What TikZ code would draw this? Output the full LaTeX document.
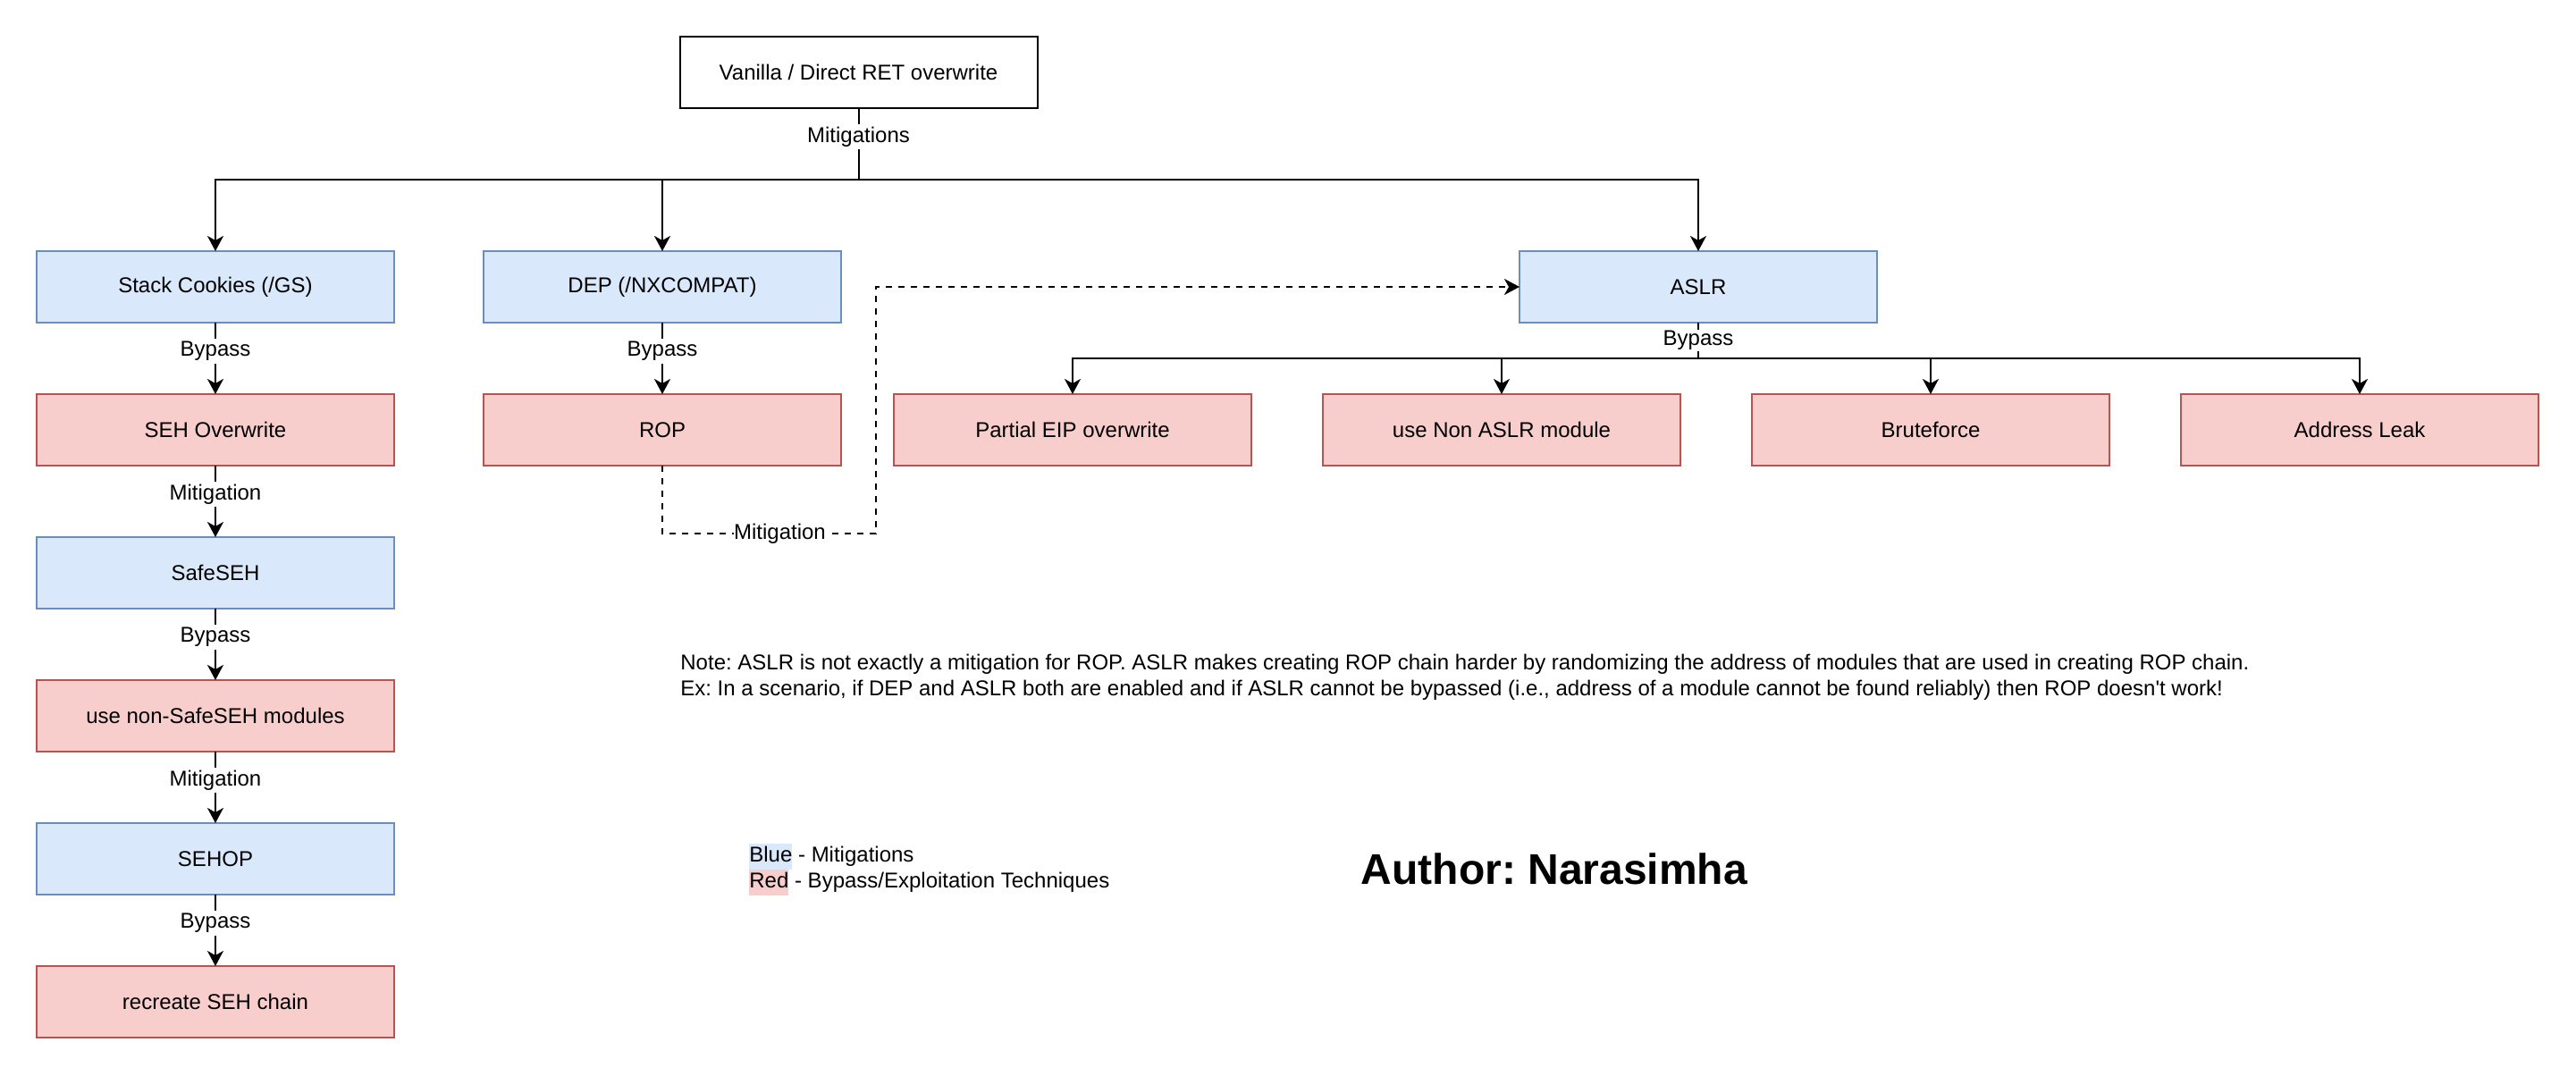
\documentclass[tikz,border=0pt]{standalone}
\usepackage{fontspec}
\setmainfont{Liberation Sans}
\usepackage{xcolor}
\usepackage{tikz}
\usetikzlibrary{arrows.meta, positioning, calc}
\definecolor{BlueFill}{HTML}{DAE8FC}
\definecolor{BlueLine}{HTML}{6C8EBF}
\definecolor{RedFill} {HTML}{F8CECC}
\definecolor{RedLine} {HTML}{B85450}
\setlength{\fboxsep}{0pt}
\frenchspacing
\tikzset{
  blk/.style={draw, line width=1pt, align=center, font=\fontsize{12}{14.4}\selectfont,
              minimum height=40pt, minimum width=200pt, inner sep=2pt, outer sep=0pt},
  mit/.style={blk, fill=BlueFill, draw=BlueLine},
  byp/.style={blk, fill=RedFill, draw=RedLine},
  arr/.style={-{Stealth[length=8.5pt,width=9pt,inset=2.5pt]}, line width=1pt},
  lbl/.style={fill=white, inner sep=1.5pt, font=\fontsize{12}{14.4}\selectfont},
  txt/.style={anchor=west, align=left, inner sep=0pt, font=\fontsize{12}{14.4}\selectfont}
}

\begin{document}
\begin{tikzpicture}
  \useasboundingbox (0,0) rectangle (1441pt,-602pt);
  \node[mit] (SC) at (120.5pt,-160.5pt) {Stack Cookies (/GS)};
  \node[mit, right=50pt of SC] (DEP) {DEP (/NXCOMPAT)};
  \node[mit, right=379.5pt of DEP] (ASLR) {ASLR};
  \node[blk, above=80pt of DEP, xshift=109.75pt] (V) {Vanilla / Direct RET overwrite};
  \node[byp, below=40pt of SC] (SEH) {SEH Overwrite};
  \node[mit, below=40pt of SEH] (SafeSEH) {SafeSEH};
  \node[byp, below=40pt of SafeSEH] (NoSafe) {use non-SafeSEH modules};
  \node[mit, below=40pt of NoSafe] (SEHOP) {SEHOP};
  \node[byp, below=40pt of SEHOP] (Chain) {recreate SEH chain};
  \node[byp, below=40pt of DEP] (ROP) {ROP};
  \node[byp, right=29.5pt of ROP] (Partial) {Partial EIP overwrite};
  \node[byp, right=40pt of Partial] (NonASLR) {use Non ASLR module};
  \node[byp, right=40pt of NonASLR] (Brute) {Bruteforce};
  \node[byp, right=40pt of Brute] (Leak) {Address Leak};

  \draw[arr](V.south)--++(0,-40pt)-|(SC.north); \draw[arr](V.south)--++(0,-40pt)-|(DEP.north);
  \draw[arr](V.south)--++(0,-40pt)-|(ASLR.north);
  \draw(V.south)--node[lbl,pos=0.4]{Mitigations}++(0,-40pt);

  \draw[arr](SC)--node[lbl,pos=0.4]{Bypass}(SEH);
  \draw[arr](SEH)--node[lbl,pos=0.4]{Mitigation}(SafeSEH);
  \draw[arr](SafeSEH)--node[lbl,pos=0.4]{Bypass}(NoSafe);
  \draw[arr](NoSafe)--node[lbl,pos=0.4]{Mitigation}(SEHOP);
  \draw[arr](SEHOP)--node[lbl,pos=0.4]{Bypass}(Chain);
  \draw[arr](DEP)--node[lbl,pos=0.4]{Bypass}(ROP);

  \coordinate[below=38pt of ROP.south] (RopLow);
  \coordinate[right=19.5pt of DEP.east] (DashX);
  \draw[arr,dash pattern=on 3.5pt off 3.5pt](ROP.south)--(RopLow)
    --node[lbl,pos=0.55,inner sep=0pt]{Mitigation}(RopLow-|DashX)|-(ASLR.west);

  \draw[arr](ASLR.south)--++(0,-20pt)-|(Partial.north); \draw[arr](ASLR.south)--++(0,-20pt)-|(NonASLR.north);
  \draw[arr](ASLR.south)--++(0,-20pt)-|(Brute.north); \draw[arr](ASLR.south)--++(0,-20pt)-|(Leak.north);
  \draw(ASLR.south)--node[lbl,inner sep=0.5pt]{Bypass}++(0,-20pt);

  \node[txt] (Note) at (380.5pt,-379pt) {Note: ASLR is not exactly a mitigation for ROP. ASLR makes creating ROP chain harder by randomizing the address of modules that are used in creating ROP chain.\\
    Ex: In a scenario, if DEP and ASLR both are enabled and if ASLR cannot be bypassed (i.e., address of a module cannot be found reliably) then ROP doesn\textquotesingle t work!};
  \node[txt] (Legend) at (419pt,-486.5pt) {\colorbox{BlueFill}{\strut Blue} - Mitigations\\ \colorbox{RedFill}{\strut Red} - Bypass/Exploitation Techniques};
  \node[font=\bfseries\fontsize{24}{28.8}\selectfont, inner sep=0pt] (Author) at (869.5pt,-486pt) {Author: Narasimha};
\end{tikzpicture}
\end{document}
